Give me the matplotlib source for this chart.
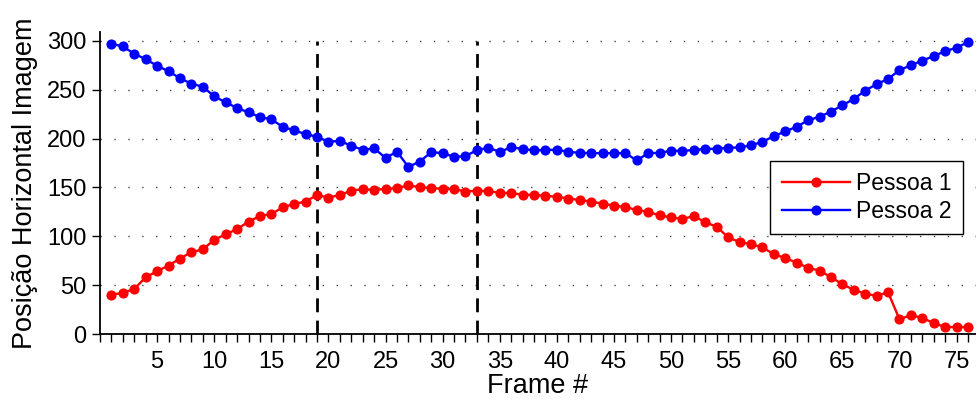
import numpy as np
import matplotlib
matplotlib.use('Agg')
import matplotlib.pyplot as plt
from matplotlib.ticker import MultipleLocator

plt.rcParams['font.family'] = ['Liberation Sans', 'DejaVu Sans']

# frames 1..76
frames = np.arange(1, 77)

pessoa1 = [40.4, 42.1, 46.2, 58.2, 64.3, 70.1, 77.3, 83.8, 86.6, 96.5,
           102.0, 107.4, 115.0, 120.8, 122.8, 129.7, 133.1, 135.5, 142.3, 139.6,
           142.3, 146.8, 148.1, 147.5, 148.5, 149.2, 152.2, 150.2, 149.5, 148.5,
           148.5, 145.7, 146.8, 146.1, 144.7, 144.0, 142.7, 142.3, 141.3, 140.6,
           138.6, 137.2, 135.5, 133.4, 131.4, 130.0, 126.9, 124.9, 121.5, 119.4,
           117.7, 120.8, 114.3, 109.8, 98.9, 94.1, 92.0, 88.6, 81.8, 77.7,
           73.2, 67.7, 65.0, 58.2, 51.0, 45.2, 41.4, 39.0, 42.8, 15.1,
           19.5, 16.4, 11.3, 7.2, 7.2, 7.2]

pessoa2 = [297.0, 294.2, 286.7, 281.2, 274.4, 268.9, 261.7, 256.1, 253.0, 243.2,
           237.0, 231.3, 226.8, 222.0, 219.7, 212.0, 208.3, 204.6, 201.8, 196.7,
           197.7, 192.6, 188.5, 189.9, 180.3, 186.5, 171.0, 176.5, 186.1, 185.1,
           181.3, 182.0, 188.2, 190.6, 186.5, 190.9, 189.5, 187.8, 188.5, 188.5,
           186.5, 185.4, 185.1, 185.1, 185.1, 185.1, 177.6, 185.1, 185.4, 187.5,
           187.5, 188.2, 189.5, 189.5, 190.6, 190.9, 193.0, 196.7, 202.5, 207.3,
           212.1, 218.6, 222.4, 227.5, 234.0, 240.5, 249.1, 255.6, 261.0, 270.0,
           275.0, 279.8, 284.3, 289.4, 292.9, 298.7]

marcos = [19, 33]
xticks_lab = list(range(5, 80, 5))

fig = plt.figure(figsize=(9.76, 4.03), dpi=100)
ax = fig.add_axes([0.1025, 0.171, 0.8975, 0.7496])

ax.yaxis.grid(True, color='#444444', linestyle=(0, (1, 9)), linewidth=1.0)
ax.set_axisbelow(True)

for m in marcos:
    ax.plot([m, m], [0, 300], color='black', linestyle=(0, (5, 3)), linewidth=2.0)

ax.plot(frames, pessoa1, '-o', color='#ff0000', linewidth=1.7, markersize=6.3, label='Pessoa 1')
ax.plot(frames, pessoa2, '-o', color='#0000ff', linewidth=1.7, markersize=6.3, label='Pessoa 2')

ax.set_xlim(0, 76.7)
ax.set_ylim(0, 309)
ax.set_xticks(xticks_lab)
ax.xaxis.set_minor_locator(MultipleLocator(1))
ax.yaxis.set_major_locator(MultipleLocator(50))
ax.tick_params(axis='both', which='both', direction='out', length=6, width=1.0,
               colors='black')
ax.tick_params(axis='both', which='major', labelsize=17)
ax.tick_params(axis='x', which='major', pad=6)
ax.tick_params(axis='y', which='major', pad=4)

for s in ['top', 'right']:
    ax.spines[s].set_visible(False)
for s in ['left', 'bottom']:
    ax.spines[s].set_linewidth(1.3)

ax.set_xlabel('Frame #', fontsize=19.5, labelpad=0)
ax.set_ylabel('Posição Horizontal Imagem', fontsize=19.5, labelpad=6)

leg = ax.legend(loc='upper right', bbox_to_anchor=(0.9932, 0.597), fontsize=16.5,
                frameon=True, fancybox=False, edgecolor='black', framealpha=1,
                handlelength=3.0, borderpad=0.5, labelspacing=0.2, handletextpad=0.25,
                borderaxespad=0.3)
leg.get_frame().set_linewidth(1.0)

fig.savefig('out.png', dpi=100)
